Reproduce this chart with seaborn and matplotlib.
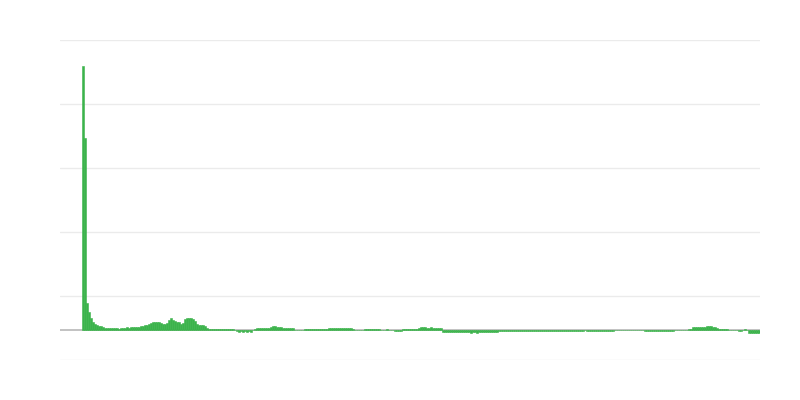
import numpy as np
import pandas as pd
import matplotlib
matplotlib.use("Agg")
import matplotlib.pyplot as plt
import seaborn as sns

# Valores (una barra por periodo, unidades arbitrarias)
spike = [264, 192, 27, 18, 12, 8, 6, 5, 4.5, 4, 3,
         1.7, 2, 1.7, 2, 1.7, 2, 1.7, 1, 1.7, 1.7]
early_hump = [2.3, 2.7, 2.3, 2.7, 2.7, 3, 3, 3.3, 3.7, 4, 5, 5.5, 6,
              7.5, 8, 8, 8, 8, 7, 6.5, 6.5, 7.5, 10, 12, 10, 9.5, 8.5, 8,
              6.5, 7, 11, 12, 12, 12, 11.5, 9, 6, 5.5, 5, 5, 4.5, 2]
middle_a = [1, 1, 0.7, 1, 1, 1, 0.7, 1, 0.7, 1, 1, 0.7, 0.7, 0.5,
            -1, -1.5, -1, -1.5, -1, -1.5, -1, -1.5, 0.3,
            1.5, 2, 2, 2.5, 2, 2.5, 2.5, 2.5, 3.3, 4, 4, 3.3, 3.3, 3.3,
            1.7, 2, 1.7, 2, 1.7, 1.7, 0.5, 0.3, 0.5, 0.3, 0.5,
            1, 1.3, 1, 1.3, 1, 1, 1.3, 1, 1.3, 1, 1, 1.3,
            1.7, 2, 1.7, 2, 1.7, 2, 1.7, 2, 1.7, 1.7, 2, 1.7, 1.3,
            0.3, 0.3, 0.3, 0.3, 0.3, 1, 1, 1.3, 1, 1.3, 1, 1, 1,
            0.5, 0.3, 0.5, 1, 0.5, 0.3, 0.5, -1, -1.3, -1.3, -1,
            1.3, 1, 1.3, 1, 1.3, 1, 1.3, 1.3,
            2.3, 2.7, 3, 2.7, 2.3, 2.3, 2.7, 2.3, 2.3, 2.3, 2.3, 2.3]
middle_b = [-1.7, -1.7, -2, -1.7, -1.7, -1.7, -2, -1.7, -1.7, -2, -1.7, -1.7, -1.7,
            -2, -2.7, -2.3, -2, -2.7, -2.3,
            -2, -2.3, -2, -2.3, -2.3, -2, -2.3, -2, -2.3,
            -1, -1, -1, -0.7, -1,
            -1, -1.3, -1, -1.3, -1, -1.3, -1, -1.3, -1, -1.3, -1, -1.3, -1,
            -1.3, -1.3, -1.3, -1.3, -0.7, -1.3,
            -1.3, -1.3, -1.3, -1.3, -1.3, -1.3, -1.3, -1.3, -1.3, -1.3,
            -1.3, -1.3, -1.3, -1.3, -1.3, -1.3, -1.3, -1.3, -1.3, 0,
            -1.3, -1.3, -1.3, -1.3, -1.3, -1.3, -1.3, -1.3, -1.3, -1.3,
            -1.3, -1.3, -1.3, -1.3]
late = [0.3, 0.3, 0.3, 0.3, 0.3, 0.3, 0.3, 0.3, 0.3, 0.3, 0.3, 0.3, 0.3, 0.3, 0.3,
        -1.3, -1.3, -1.3, -1.3, -1.3, -1.3, -1.3, -1.3, -1.3, -1.3, -1.3, -1.3,
        -1.3, -1.3, -1.3,
        0.2, 0.2, 0.2, 0.2, 0.2, 0.2, 0.2, 0.7, 1.3,
        2.7, 2.7, 3, 3.3, 3, 3.3, 3, 4, 3.7, 4, 3.3, 2.7, 2,
        1.3, 1, 1, 1, 1.3, 0.3, 0.2, 0.2, 0.2, 0.2,
        -1.3, -1.3, 0.2, 1, 0.2, -3, -3, -3, -3, -3, -3.3]

values = spike + early_hump + middle_a + middle_b + late
periods = list(range(len(values)))
grid_levels = [-30, 34, 98, 162, 226, 290]

green = "#3bb34b"

sns.set_style("white")
fig = plt.figure(figsize=(8, 4), dpi=100)
ax = fig.add_axes([0.075, 0.1, 0.875, 0.8])

ax.axhline(0, color="#b7b7b7", lw=1.2, zorder=1)
df = pd.DataFrame({"periodo": periods, "valor": values})
sns.barplot(data=df, x="periodo", y="valor", native_scale=True, width=1,
            color=green, saturation=1, errorbar=None,
            edgecolor=green, linewidth=0.4, ax=ax, zorder=2)

ax.set_xlim(-11.5, 338.5)
ax.set_ylim(grid_levels[0], grid_levels[-1])
ax.set_yticks(grid_levels)
ax.grid(axis="y", color="#ebebeb", lw=1)
ax.set_axisbelow(True)
ax.tick_params(left=False, bottom=False, labelleft=False, labelbottom=False)
ax.set_xlabel("")
ax.set_ylabel("")
for s in ax.spines.values():
    s.set_visible(False)

fig.savefig("out.png", dpi=100)
